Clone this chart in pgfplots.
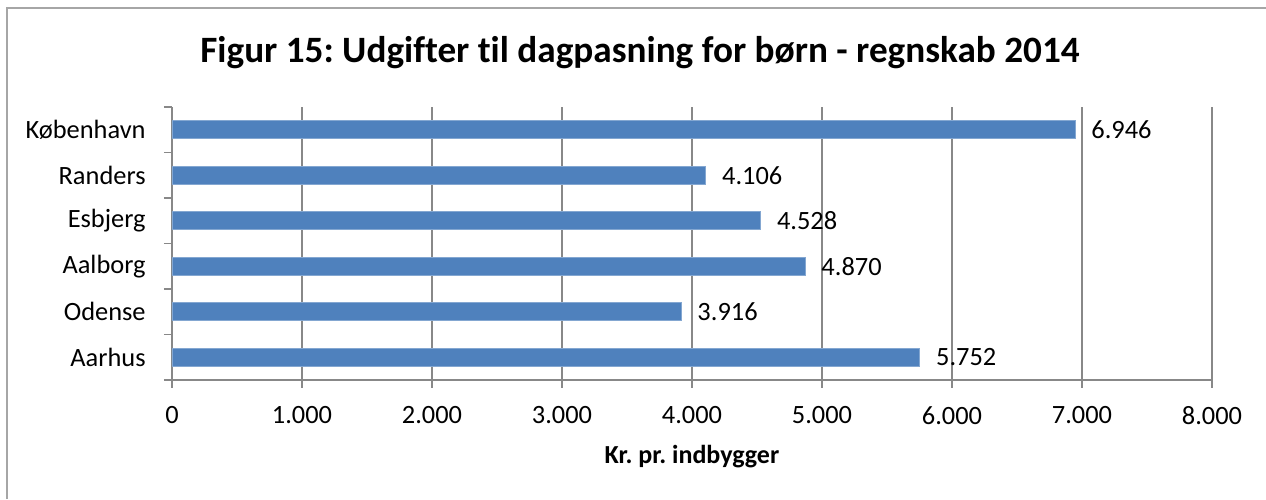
\documentclass[border=0pt]{standalone}
\usepackage{pgfplots}
\pgfplotsset{compat=1.18}
\usepackage{fontspec}
\setmainfont{Carlito}[Ligatures=CommonOff]
\frenchspacing
\definecolor{barblue}{HTML}{4F81BD}
\definecolor{gridgray}{HTML}{888888}
\definecolor{framegray}{HTML}{A6A6A6}

\begin{document}
\begin{tikzpicture}
\useasboundingbox (0,0) rectangle (633pt,249.5pt);
\draw[framegray, line width=0.9pt] (3.5pt,0) -- (3.5pt,245.5pt) -- (633pt,245.5pt);
\node[anchor=base, font=\bfseries\fontsize{18.6}{22}\selectfont] at (320pt,218pt)
  {Figur 15: Udgifter til dagpasning for børn - regnskab 2014};
\begin{axis}[
  at={(86pt,59.5pt)}, anchor=south west,
  scale only axis, width=520pt, height=136.5pt,
  xbar, bar width=9pt,
  xmin=0, xmax=8000, ymin=-0.5, ymax=5.5,
  axis x line*=bottom, axis y line*=left,
  axis line style={gridgray, line width=0.9pt, -},
  xtick={0,1000,...,8000},
  ytick={0,...,5},
  yticklabels={Aarhus,Odense,Aalborg,Esbjerg,Randers,København},
  minor ytick={-0.5,0.5,...,5.5},
  tick align=outside,
  major tick length=4pt, minor tick length=4pt,
  every major y tick/.style={draw=none},
  tick style={gridgray, line width=0.9pt},
  xmajorgrids, major grid style={gridgray, line width=0.9pt},
  /pgf/number format/assume math mode=true,
  /pgf/number format/.cd, 1000 sep={.}, fixed, /pgfplots/.cd,
  ticklabel style={font=\fontsize{13.2}{16}\selectfont, inner sep=0pt},
  xticklabel style={yshift=-9pt},
  yticklabel style={xshift=-9pt},
  nodes near coords,
  nodes near coords style={anchor=west, inner sep=0pt, xshift=8pt,
    font=\fontsize{13.2}{16}\selectfont,
    /pgf/number format/.cd, 1000 sep={.}, fixed, assume math mode=true},
]
\addplot[fill=barblue, draw=barblue!70!white, line width=0.4pt] coordinates {
  (5752,0) (3916,1) (4870,2) (4528,3) (4106,4) (6946,5)};
\end{axis}
\node[anchor=base, font=\bfseries\fontsize{13}{15}\selectfont] at (346pt,18pt) {Kr. pr. indbygger};
\end{tikzpicture}
\end{document}
